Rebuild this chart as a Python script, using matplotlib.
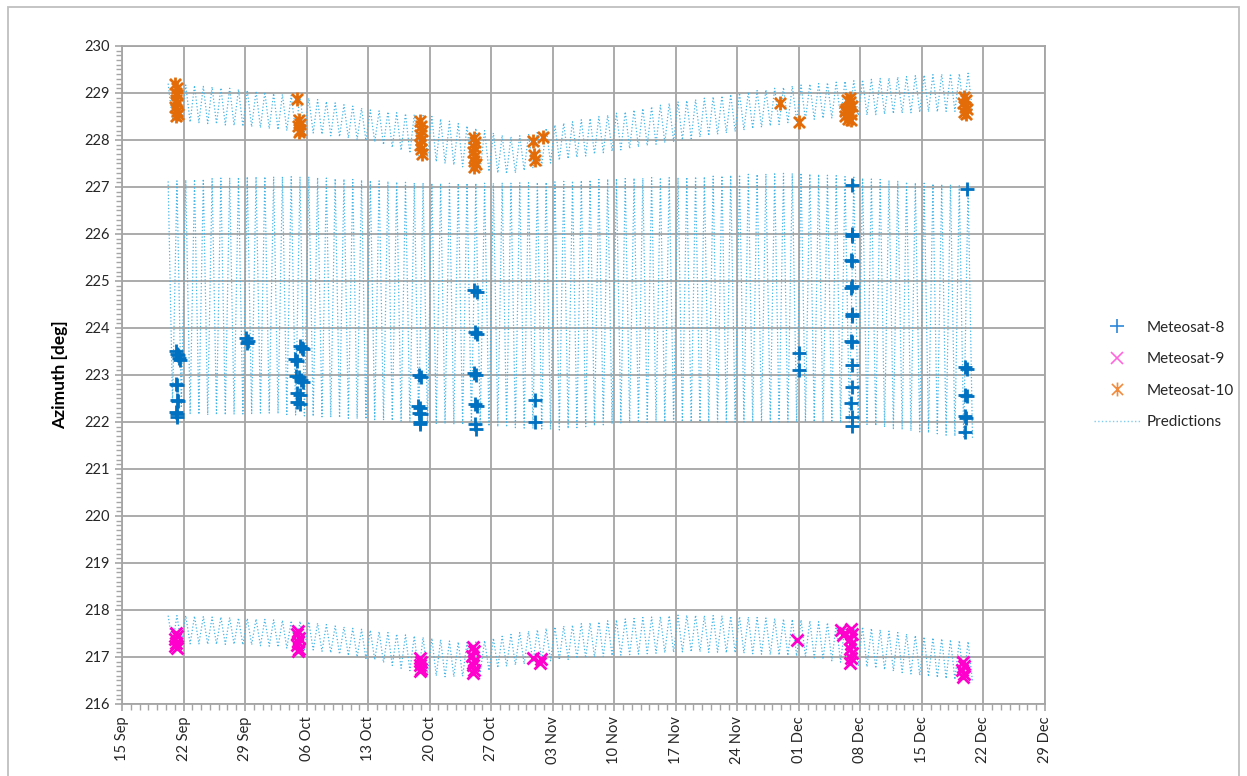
import datetime as dt

import matplotlib
matplotlib.use("Agg")
import matplotlib.dates as mdates
import matplotlib.pyplot as plt
import numpy as np
from matplotlib.lines import Line2D
from matplotlib.path import Path
from matplotlib.ticker import MultipleLocator

plt.rcParams["font.family"] = ["Lato", "DejaVu Sans"]

base = dt.datetime(2013, 9, 15)

# predicted daily azimuth extremes, one value per day starting 20 Sep
pred_start = 5
m8_hi = [227.12, 227.13, 227.15, 227.16, 227.17, 227.18, 227.19, 227.20, 227.21, 227.22,
         227.22, 227.22, 227.22, 227.22, 227.22, 227.22, 227.22,
         227.20, 227.19, 227.18, 227.17, 227.16, 227.15, 227.14,
         227.13, 227.12, 227.11, 227.10, 227.09, 227.09, 227.08,
         227.08, 227.08, 227.08, 227.08, 227.08, 227.08, 227.08,
         227.08, 227.08, 227.09, 227.09, 227.10, 227.10, 227.11,
         227.12, 227.13, 227.14, 227.15, 227.16, 227.17, 227.18,
         227.18, 227.19, 227.19, 227.20, 227.20, 227.20, 227.20,
         227.21, 227.22, 227.22, 227.23, 227.24, 227.25, 227.26,
         227.27, 227.27, 227.28, 227.28, 227.29, 227.29, 227.30,
         227.28, 227.27, 227.25, 227.24, 227.22, 227.21, 227.19,
         227.17, 227.16, 227.14, 227.12, 227.11, 227.09, 227.08,
         227.07, 227.06, 227.05, 227.05, 227.04]
m8_lo = [222.40, 222.30, 222.18, 222.16, 222.15, 222.15, 222.15, 222.16, 222.17, 222.18,
         222.19, 222.19, 222.18, 222.16, 222.15, 222.13, 222.12,
         222.11, 222.10, 222.09, 222.08, 222.07, 222.06, 222.05,
         222.04, 222.03, 222.02, 222.01, 222.00, 221.98, 221.97,
         221.96, 221.95, 221.94, 221.93, 221.92, 221.91, 221.90,
         221.89, 221.88, 221.87, 221.86, 221.85, 221.84, 221.83,
         221.86, 221.88, 221.90, 221.92, 221.94, 221.96, 221.98,
         221.98, 221.99, 221.99, 222.00, 222.00, 222.00, 222.00,
         222.00, 222.00, 222.00, 222.00, 222.00, 222.00, 222.00,
         222.00, 222.00, 222.00, 222.00, 222.00, 222.00, 222.00,
         222.00, 221.99, 221.99, 221.98, 221.97, 221.96, 221.95,
         221.92, 221.89, 221.86, 221.84, 221.81, 221.79, 221.77,
         221.75, 221.72, 221.70, 221.68, 221.66]
m9_hi = [217.88, 217.88, 217.88, 217.87, 217.86, 217.85, 217.85, 217.84, 217.83, 217.82,
         217.81, 217.80, 217.79, 217.78, 217.77, 217.76, 217.75,
         217.72, 217.69, 217.66, 217.64, 217.61, 217.59, 217.57,
         217.54, 217.52, 217.49, 217.47, 217.45, 217.42, 217.40,
         217.37, 217.34, 217.32, 217.31, 217.32, 217.35, 217.40,
         217.44, 217.48, 217.52, 217.55, 217.58, 217.61, 217.64,
         217.66, 217.68, 217.71, 217.73, 217.75, 217.77, 217.79,
         217.81, 217.82, 217.84, 217.85, 217.86, 217.88, 217.89,
         217.89, 217.89, 217.88, 217.88, 217.87, 217.87, 217.86,
         217.85, 217.84, 217.83, 217.82, 217.81, 217.80, 217.79,
         217.77, 217.75, 217.73, 217.71, 217.69, 217.66, 217.64,
         217.61, 217.58, 217.55, 217.52, 217.49, 217.46, 217.43,
         217.41, 217.39, 217.37, 217.35, 217.33]
m9_lo = [217.28, 217.28, 217.28, 217.28, 217.27, 217.27, 217.27, 217.27, 217.26, 217.26,
         217.24, 217.23, 217.21, 217.19, 217.18, 217.16, 217.15,
         217.12, 217.09, 217.06, 217.03, 217.00, 216.97, 216.94,
         216.88, 216.82, 216.76, 216.71, 216.66, 216.62, 216.60,
         216.58, 216.58, 216.59, 216.62, 216.66, 216.71, 216.77,
         216.80, 216.83, 216.85, 216.88, 216.90, 216.92, 216.94,
         216.95, 216.97, 216.98, 217.00, 217.01, 217.03, 217.04,
         217.05, 217.06, 217.07, 217.08, 217.09, 217.10, 217.11,
         217.11, 217.11, 217.10, 217.10, 217.09, 217.09, 217.08,
         217.07, 217.06, 217.05, 217.04, 217.03, 217.02, 217.01,
         216.98, 216.95, 216.92, 216.89, 216.86, 216.82, 216.79,
         216.76, 216.73, 216.70, 216.67, 216.64, 216.61, 216.58,
         216.56, 216.54, 216.52, 216.50, 216.48]
m10_hi = [229.20, 229.19, 229.17, 229.16, 229.14, 229.13, 229.11, 229.10, 229.08, 229.06,
          229.04, 229.02, 228.99, 228.97, 228.95, 228.92, 228.89,
          228.86, 228.82, 228.79, 228.75, 228.72, 228.68, 228.64,
          228.62, 228.60, 228.58, 228.56, 228.54, 228.52, 228.50,
          228.45, 228.40, 228.35, 228.30, 228.25, 228.20, 228.15,
          228.10, 228.07, 228.09, 228.13, 228.19, 228.25, 228.32,
          228.36, 228.39, 228.43, 228.46, 228.50, 228.53, 228.57,
          228.60, 228.64, 228.67, 228.71, 228.74, 228.78, 228.81,
          228.84, 228.86, 228.89, 228.92, 228.94, 228.97, 229.00,
          229.02, 229.05, 229.07, 229.10, 229.12, 229.15, 229.17,
          229.19, 229.20, 229.22, 229.23, 229.25, 229.26, 229.28,
          229.29, 229.31, 229.32, 229.34, 229.35, 229.37, 229.38,
          229.39, 229.40, 229.41, 229.41, 229.42]
m10_lo = [228.40, 228.39, 228.38, 228.37, 228.35, 228.34, 228.32, 228.31, 228.29, 228.28,
          228.26, 228.24, 228.22, 228.20, 228.19, 228.17, 228.15,
          228.12, 228.09, 228.07, 228.04, 228.01, 227.99, 227.96,
          227.90, 227.84, 227.78, 227.72, 227.66, 227.60, 227.54,
          227.50, 227.47, 227.43, 227.40, 227.36, 227.33, 227.30,
          227.28, 227.30, 227.35, 227.40, 227.45, 227.51, 227.57,
          227.60, 227.63, 227.66, 227.70, 227.73, 227.76, 227.79,
          227.82, 227.85, 227.88, 227.91, 227.94, 227.97, 228.00,
          228.03, 228.06, 228.09, 228.12, 228.15, 228.18, 228.21,
          228.24, 228.27, 228.30, 228.33, 228.37, 228.40, 228.43,
          228.44, 228.46, 228.47, 228.49, 228.50, 228.52, 228.53,
          228.54, 228.55, 228.56, 228.57, 228.58, 228.59, 228.60,
          228.60, 228.61, 228.61, 228.62, 228.62]

# measured azimuths: days after 15 Sep, value in deg
m8_day = [6.1, 6.2, 6.35, 6.5, 6.6, 6.15, 6.3, 6.2, 6.35, 6.15, 6.3, 6.2,
          14.1, 14.3, 14.2,
          20.3, 20.5, 20.6, 19.7, 19.9, 19.8, 20.1, 20.4, 20.6, 19.9, 20.2, 19.9, 20.3,
          33.8, 34.0, 33.7, 33.9, 33.8, 34.0, 33.85, 33.9,
          40.1, 40.4, 40.2, 40.4, 40.1, 40.3, 40.2, 40.4, 40.2, 40.3,
          47.0, 47.0,
          77.0, 77.0,
          83.0, 83.0, 83.1, 82.9, 83.1, 83.0, 82.9, 83.1, 83.0, 82.9, 83.1, 83.0, 83.0, 82.9, 83.0, 83.0,
          96.1, 95.9, 96.1, 95.9, 96.1, 95.9, 96.0, 95.9]
m8_az = [223.52, 223.45, 223.42, 223.36, 223.32, 222.80, 222.78, 222.46, 222.44, 222.22, 222.18, 222.10,
         223.78, 223.72, 223.68,
         223.62, 223.58, 223.55, 223.34, 223.30, 222.98, 222.95, 222.90, 222.86, 222.62, 222.58, 222.42, 222.38,
         223.00, 222.96, 222.35, 222.30, 222.20, 222.17, 222.00, 221.95,
         224.80, 224.77, 223.92, 223.88, 223.04, 223.01, 222.38, 222.35, 221.95, 221.85,
         222.47, 221.99,
         223.46, 223.10,
         227.05, 226.00, 225.96, 225.45, 225.42, 224.90, 224.85, 224.30, 224.26, 223.72, 223.70, 223.22, 222.75, 222.40, 222.10, 221.92,
         226.95, 223.16, 223.13, 222.58, 222.55, 222.12, 222.08, 221.79]

m9_day = [6.1, 6.2, 6.0, 6.15, 6.05, 6.2,
          20.0, 19.9, 20.1, 20.0, 19.95, 20.1, 20.0,
          33.9, 34.0, 33.85, 34.0, 33.9,
          39.9, 40.0, 39.85, 40.0, 39.9, 40.0, 39.9,
          46.8, 47.7, 47.6,
          76.8,
          81.8, 82.2, 82.0, 82.9, 83.0, 82.8, 82.95, 82.85, 83.0, 82.9, 82.8,
          95.7, 95.8, 95.6, 95.75, 95.7]
m9_az = [217.52, 217.45, 217.38, 217.30, 217.24, 217.20,
         217.55, 217.48, 217.40, 217.32, 217.25, 217.18, 217.12,
         216.98, 216.90, 216.82, 216.75, 216.70,
         217.22, 217.12, 217.02, 216.92, 216.82, 216.73, 216.66,
         216.98, 216.95, 216.87,
         217.36,
         217.58, 217.52, 217.47, 217.60, 217.48, 217.38, 217.28, 217.18, 217.08, 216.98, 216.88,
         216.90, 216.80, 216.72, 216.64, 216.57]

m10_day = [6.0, 6.2, 6.1, 6.3, 6.15, 6.3, 6.0, 6.2, 6.35, 6.1,
           19.9, 20.1, 20.2, 20.0, 20.3, 20.15,
           33.9, 34.0, 34.1, 33.95, 34.05, 33.9, 34.0, 34.1,
           40.0, 40.2, 40.1, 39.9, 40.2, 40.0, 40.3, 40.1,
           46.7, 47.9, 46.9, 47.0,
           74.9, 77.0,
           82.5, 82.8, 83.0, 82.4, 82.7, 82.9, 82.3, 82.6, 82.9, 82.5, 82.2, 82.8,
           95.8, 96.0, 95.7, 95.9, 96.1, 95.8, 96.0]
m10_az = [229.20, 229.10, 229.00, 228.95, 228.85, 228.78, 228.70, 228.62, 228.55, 228.52,
          228.88, 228.42, 228.35, 228.30, 228.22, 228.18,
          228.40, 228.30, 228.20, 228.10, 228.00, 227.90, 227.80, 227.70,
          228.05, 227.95, 227.85, 227.75, 227.65, 227.55, 227.48, 227.42,
          227.98, 228.07, 227.68, 227.58,
          228.79, 228.38,
          228.85, 228.80, 228.72, 228.65, 228.60, 228.55, 228.50, 228.45, 228.42, 228.56, 228.62, 228.90,
          228.92, 228.85, 228.78, 228.70, 228.65, 228.60, 228.56]

labels = ["Meteosat-8", "Meteosat-9", "Meteosat-10", "Predictions"]
colors = ["#0070C0", "#FF00CC", "#E36C09", "#45B5E8"]


def to_dates(days):
    return mdates.date2num([base + dt.timedelta(days=float(d)) for d in days])


def zigzag(hi, lo):
    # one maximum and one minimum per day
    days = np.arange(len(hi)) + pred_start
    t = np.empty(2 * len(hi))
    v = np.empty(2 * len(hi))
    t[0::2] = days + 0.25
    t[1::2] = days + 0.75
    v[0::2] = hi
    v[1::2] = lo
    return to_dates(t), v


# x plus vertical bar, like the spreadsheet star marker
star = Path([(-1, -1), (1, 1), (-1, 1), (1, -1), (0, -1.25), (0, 1.25)],
            [Path.MOVETO, Path.LINETO, Path.MOVETO, Path.LINETO, Path.MOVETO, Path.LINETO])

fig = plt.figure(figsize=(12.47, 7.76), dpi=100)
ax = fig.add_axes([122 / 1247, 1 - 704 / 776, (1045 - 122) / 1247, (704 - 46) / 776])

for hi, lo in [(m8_hi, m8_lo), (m9_hi, m9_lo), (m10_hi, m10_lo)]:
    t, v = zigzag(hi, lo)
    ax.plot(t, v, linestyle=":", color=colors[3], lw=0.9, zorder=2)

ax.plot(to_dates(m8_day), m8_az, linestyle="none", marker="+", ms=10, mew=2.0,
        color=colors[0], zorder=3)
ax.plot(to_dates(m9_day), m9_az, linestyle="none", marker="x", ms=9, mew=2.0,
        color=colors[1], zorder=3)
ax.plot(to_dates(m10_day), m10_az, linestyle="none", marker=star, ms=10, mew=2.0,
        color=colors[2], zorder=4)

ax.set_xlim(to_dates([0])[0], to_dates([105])[0])
ax.set_ylim(216, 230)
ax.set_xticks(to_dates(np.arange(0, 106, 7)))
ax.xaxis.set_major_formatter(mdates.DateFormatter("%d %b"))
ax.xaxis.set_minor_locator(mdates.DayLocator())
ax.yaxis.set_major_locator(MultipleLocator(1))
ax.yaxis.set_minor_locator(MultipleLocator(0.1))

grid_col = "#A5A5A5"
ax.grid(True, which="major", color=grid_col, lw=1.3)
ax.set_axisbelow(True)
for s in ax.spines.values():
    s.set_color(grid_col)
    s.set_linewidth(1.3)
ax.tick_params(axis="both", which="both", direction="out", color=grid_col, labelcolor="#262626",
               labelsize=10.5)
ax.tick_params(axis="both", which="major", length=5, width=1.2)
ax.tick_params(axis="both", which="minor", length=4, width=1.0)
ax.tick_params(axis="x", labelrotation=90, pad=4)
ax.set_ylabel("Azimuth [deg]", fontsize=12.5, fontweight="bold", labelpad=12)

handles = [
    Line2D([], [], linestyle="none", marker="+", ms=10, mew=1.2, color="#2E86D8"),
    Line2D([], [], linestyle="none", marker="x", ms=9, mew=1.2, color="#FF66DD"),
    Line2D([], [], linestyle="none", marker=star, ms=10, mew=1.2, color="#F08A3C"),
    Line2D([], [], linestyle=":", lw=1.0, color="#7FCDEF"),
]
fig.legend(handles, labels, loc="center left", bbox_to_anchor=(1080 / 1247, 1 - 375 / 776),
           frameon=False, fontsize=11, handlelength=3.0, handletextpad=0.45, labelspacing=1.15,
           labelcolor="#262626")

# outer chart frame
fig.add_artist(plt.Rectangle((8 / 1247, -0.01), 1231 / 1247, 1 - 7 / 776 + 0.01,
                             transform=fig.transFigure, fill=False, edgecolor="#BFBFBF", lw=1.3))

fig.savefig("out.png", dpi=100)
